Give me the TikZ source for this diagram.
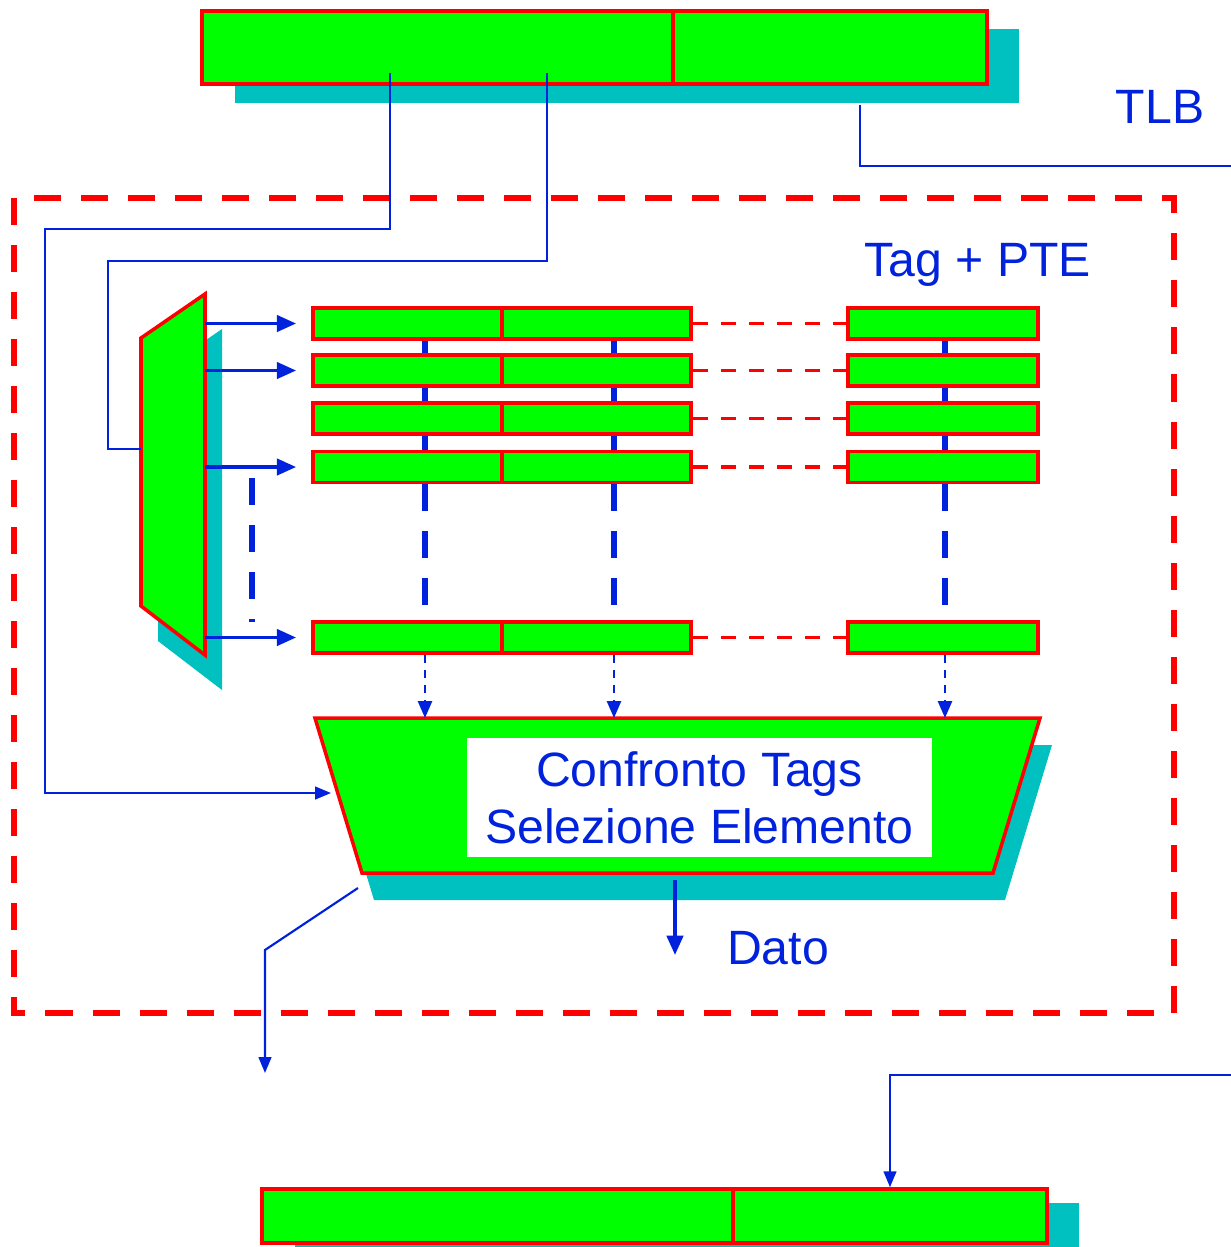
\documentclass[tikz,border=0pt]{standalone}
\usepackage{fontspec}
\setmainfont{Liberation Sans}
\usetikzlibrary{arrows.meta, backgrounds}

\definecolor{regred}{RGB}{255,0,0}
\definecolor{reggreen}{RGB}{0,255,0}
\definecolor{regshade}{RGB}{0,192,192}
\definecolor{wireblue}{RGB}{0,34,221}

\begin{document}
\begin{tikzpicture}[x=0.01cm, y=-0.01cm,
    cell/.style={draw=regred, fill=reggreen, line width=1pt, inner sep=0pt, minimum width=1.89cm, minimum height=0.31cm},
    block/.style={draw=regred, fill=reggreen, line width=1pt},
    label/.style={text=wireblue, font=\fontsize{13.7}{16.2}\selectfont},
    wire/.style={wireblue, line width=0.6pt},
    wirearrow/.style={wire, -{Triangle[length=4.5pt, width=3.6pt]}},
    bus/.style={wireblue, line width=1.1pt, -{Triangle[length=5.5pt, width=4.6pt]}},
    colbus/.style={wireblue, line width=1.7pt},
    link/.style={regred, line width=1pt, dash pattern=on 0.15cm off 0.13cm},
    tagarrow/.style={wireblue, line width=0.6pt, dash pattern=on 0.08cm off 0.07cm, -{Triangle[length=4.8pt, width=4pt]}}]
    \useasboundingbox (0,0) rectangle (1231,1247);

    %Frame
    \draw[regred, line width=1.7pt, dash pattern=on 0.27cm off 0.2cm] (14,198) rectangle (1174,1013);

    %Coordinates
    \coordinate (col1) at (425,0);
    \coordinate (col2) at (614,0);
    \coordinate (col3) at (945,0);
    \coordinate (dTL) at (141,338);
    \coordinate (dTR) at (205,294);
    \coordinate (dBR) at (205,655);
    \coordinate (dBL) at (141,606);
    \coordinate (cTL) at (315,718);
    \coordinate (cTR) at (1040,718);
    \coordinate (cBR) at (993,873);
    \coordinate (cBL) at (362,873);
    \coordinate (tap1) at (390,73);
    \coordinate (tap2) at (547,73);
    \coordinate (tap3) at (860,105);
    \coordinate (tlbOut) at (1231,166);
    \coordinate (tlbIn) at (1231,1075);
    \coordinate (decIn) at (141,449);
    \coordinate (cmpIn) at (331,793);
    \coordinate (dsrc) at (675,880);
    \coordinate (dend) at (675,955);
    \coordinate (osrc) at (358,888);
    \coordinate (obend) at (265,950);
    \coordinate (oend) at (265,1073);

    %Shadows
    \fill[regshade] (235,29) rectangle (1019,103);
    \fill[regshade] (295,1203) rectangle (1079,1247);
    \fill[regshade] (158,373) -- (222,329) -- (222,690) -- (158,641) -- cycle;
    \fill[regshade] (327,745) -- (1052,745) -- (1005,900) -- (374,900) -- cycle;

    %Nodes
    \node[cell, minimum width=4.71cm, minimum height=0.73cm] at (437.5,47.5) (tA) {};
    \node[cell, minimum width=3.14cm, minimum height=0.73cm] at (830,47.5) (tB) {};
    \node[cell, minimum width=4.71cm, minimum height=0.54cm] at (497.5,1216) (bA) {};
    \node[cell, minimum width=3.14cm, minimum height=0.54cm] at (890,1216) (bB) {};

    \node[cell] at (407.5,323.5) (e1a) {};
    \node[cell] at (596.5,323.5) (e1b) {};
    \node[cell, minimum width=1.9cm] at (943,323.5) (e1t) {};
    \node[cell] at (407.5,370.5) (e2a) {};
    \node[cell] at (596.5,370.5) (e2b) {};
    \node[cell, minimum width=1.9cm] at (943,370.5) (e2t) {};
    \node[cell] at (407.5,418.5) (e3a) {};
    \node[cell] at (596.5,418.5) (e3b) {};
    \node[cell, minimum width=1.9cm] at (943,418.5) (e3t) {};
    \node[cell] at (407.5,467) (e4a) {};
    \node[cell] at (596.5,467) (e4b) {};
    \node[cell, minimum width=1.9cm] at (943,467) (e4t) {};
    \node[cell] at (407.5,637.5) (e5a) {};
    \node[cell] at (596.5,637.5) (e5b) {};
    \node[cell, minimum width=1.9cm] at (943,637.5) (e5t) {};

    \draw[block] (dTL) -- (dTR) -- (dBR) -- (dBL) -- cycle;
    \draw[block] (cTL) -- (cTR) -- (cBR) -- (cBL) -- cycle;
    \node[label, fill=white, align=center, minimum width=4.65cm, minimum height=1.19cm] at (699.5,797.5) (cmp) {Confronto Tags\\Selezione Elemento};

    \node[label] at (1160,107) (tlb) {TLB};
    \node[label] at (978,265) (tagpte) {Tag + PTE};
    \node[label] at (778,948) (dato) {Dato};

    %Lines
    \begin{scope}[on background layer]
        \draw[colbus] (e1a.south -| col1) -- (e4a.north -| col1);
        \draw[colbus] (e1b.south -| col2) -- (e4b.north -| col2);
        \draw[colbus] (e1t.south -| col3) -- (e4t.north -| col3);
    \end{scope}
    \draw[colbus, dash pattern=on 0.27cm off 0.2cm] (e4a.south -| col1) -- (e5a.north -| col1);
    \draw[colbus, dash pattern=on 0.27cm off 0.2cm] (e4b.south -| col2) -- (e5b.north -| col2);
    \draw[colbus, dash pattern=on 0.27cm off 0.2cm] (e4t.south -| col3) -- (e5t.north -| col3);
    \draw[colbus, dash pattern=on 0.27cm off 0.2cm] (252,478) -- (252,622);

    \draw[link] (e1b) -- (e1t);
    \draw[link] (e2b) -- (e2t);
    \draw[link] (e3b) -- (e3t);
    \draw[link] (e4b) -- (e4t);
    \draw[link] (e5b) -- (e5t);

    \draw[bus, shorten >=0.15cm] (dTR |- e1a) -- (e1a.west);
    \draw[bus, shorten >=0.15cm] (dTR |- e2a) -- (e2a.west);
    \draw[bus, shorten >=0.15cm] (dTR |- e4a) -- (e4a.west);
    \draw[bus, shorten >=0.15cm] (dTR |- e5a) -- (e5a.west);

    \draw[tagarrow] (e5a.south -| col1) -- (col1 |- cTL);
    \draw[tagarrow] (e5b.south -| col2) -- (col2 |- cTL);
    \draw[tagarrow] (e5t.south -| col3) -- (col3 |- cTL);

    \draw[wirearrow] (tap1) |- (45,229) |- (cmpIn);
    \draw[wire] (tap2) |- (108,261) |- (decIn);
    \draw[wire] (tap3) |- (tlbOut);
    \draw[wirearrow] (tlbIn) -| (bB.north);
    \draw[bus] (dsrc) -- (dend);
    \draw[wirearrow] (osrc) -- (obend) -- (oend);

\end{tikzpicture}
\end{document}
